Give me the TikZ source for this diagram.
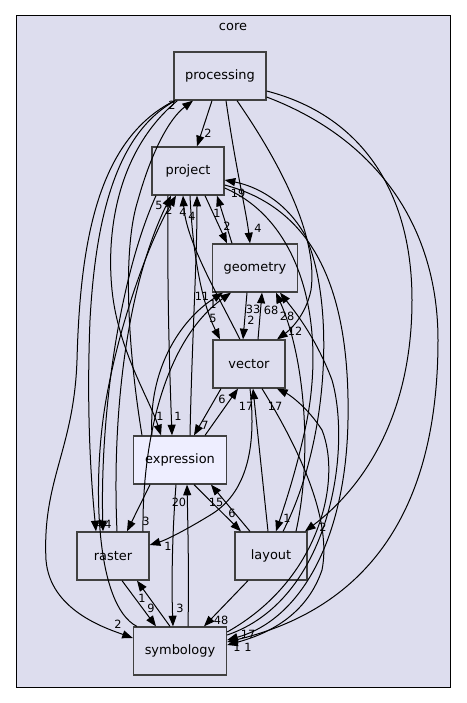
\documentclass[tikz,border=0pt]{standalone}
\usepackage{fontspec}
\setmainfont{DejaVu Sans}
\usepackage{xcolor}
\usetikzlibrary{arrows, arrows.meta}
\definecolor{clusterbg}{HTML}{DDDDEE}
\definecolor{dirfill}{HTML}{DDDDEE}
\definecolor{curfill}{HTML}{EEEEFF}
\definecolor{dirline}{HTML}{404040}

\begin{document}
\begin{tikzpicture}[x=0.75pt,y=-0.75pt,
  dirbox/.style={draw=dirline,line width=0.95pt,fill=dirfill,minimum height=36pt,inner sep=0pt,
    font=\fontsize{9.7}{11}\selectfont},
  dep/.style={draw=black,line width=0.75pt,-{Triangle[length=8pt,width=6pt]}},
  lbl/.style={inner sep=0pt,font=\fontsize{8.5}{10}\selectfont}]
\useasboundingbox[fill=white] (0,0) rectangle (467,703);
%cluster
\draw[fill=clusterbg,line width=0.75pt] (16,15) rectangle (450,687);
\node[lbl,font=\fontsize{9.7}{11}\selectfont] (core) at (233,27) {core};

%directories
\node[dirbox,minimum width=69pt] (processing) at (220,76) {processing};
\node[dirbox,minimum width=54pt] (project) at (188,171) {project};
\node[dirbox,minimum width=63.75pt] (geometry) at (255,268) {geometry};
\node[dirbox,minimum width=54pt] (vector) at (249,364) {vector};
\node[dirbox,minimum width=69.75pt,fill=curfill] (expression) at (180,460) {expression};
\node[dirbox,minimum width=54pt] (raster) at (113,556) {raster};
\node[dirbox,minimum width=54pt] (layout) at (271,556) {layout};
\node[dirbox,minimum width=69.75pt] (symbology) at (180,651) {symbology};

%processing
\draw[dep] ([xshift=-6pt]processing.south) -- ([xshift=6.75pt]project.north);
\draw[dep] ([xshift=4.5pt]processing.south) .. controls (236,170) and (246,210) .. ([xshift=-3.75pt]geometry.north);
\draw[dep] ([xshift=12.75pt]processing.south) .. controls (285,170) and (318,240) .. (311,290) .. controls (306,315) and (290,330) .. ([xshift=21pt]vector.north);
\draw[dep] ([yshift=-11.25pt]processing.east) .. controls (360,115) and (412,190) .. (412,300) .. controls (412,420) and (360,490) .. ([xshift=25.5pt]layout.north);
\draw[dep] ([yshift=-15.75pt]processing.east) .. controls (380,140) and (438,230) .. (438,340) .. controls (438,520) and (360,610) .. ([yshift=6.75pt]symbology.east);
\draw[dep] ([xshift=1pt]processing.south west) .. controls (95,140) and (80,250) .. (77,360) .. controls (74,450) and (42,480) .. (46,560) .. controls (50,610) and (105,628) .. ([yshift=9.75pt]symbology.west);
\draw[dep] ([xshift=3pt]processing.south west) .. controls (118,150) and (106,230) .. (112,290) .. controls (118,350) and (150,400) .. ([xshift=-14.25pt]expression.north);
\draw[dep] ([xshift=1.5pt]processing.south west) .. controls (112,135) and (95,230) .. (90,320) .. controls (86,420) and (92,490) .. ([xshift=-12.75pt]raster.north);
\node[lbl] (l1) at (208,133) {2};
\node[lbl] (l2) at (258,228) {4};
\node[lbl] (l3) at (295,331) {12};
\node[lbl] (l4) at (323,527) {2};
\node[lbl] (l5) at (248,647) {1};
\node[lbl] (l6) at (118,624) {2};
\node[lbl] (l7) at (160,416) {1};
\node[lbl] (l8) at (100,524) {4};

%project
\draw[dep] ([xshift=-28.5pt]expression.north) .. controls (128,350) and (122,250) .. (138,200) .. controls (152,150) and (170,118) .. ([xshift=-20.25pt]processing.south);
\draw[dep] ([xshift=3pt]raster.north) .. controls (112,420) and (125,290) .. ([xshift=-12.75pt]project.south);
\draw[dep] ([xshift=3pt]symbology.north west) .. controls (95,605) and (92,480) .. (106,400) .. controls (120,320) and (150,240) .. ([xshift=-9pt]project.south);
\draw[dep] ([xshift=-6.75pt]vector.north) .. controls (215,290) and (186,240) .. ([xshift=-3.75pt]project.south);
\draw[dep] ([xshift=7.5pt]expression.north) .. controls (192,340) and (197,260) .. ([xshift=6.75pt]project.south);
\draw[dep] ([xshift=-17.25pt]geometry.north) -- ([xshift=21.75pt]project.south);
\draw[dep] ([xshift=12.75pt]project.south) -- ([xshift=-21pt]geometry.north);
\draw[dep] ([xshift=9pt]layout.north) .. controls (330,440) and (335,300) .. (305,235) .. controls (285,200) and (255,186) .. ([yshift=-6.75pt]project.east);
\draw[dep] ([xshift=1.5pt]project.south) .. controls (193,260) and (203,305) .. ([xshift=-21.75pt]vector.north);
\draw[dep] ([xshift=-15pt]project.south) .. controls (167,300) and (170,380) .. ([xshift=-6pt]expression.north);
\draw[dep] ([xshift=-24pt]project.south) .. controls (118,280) and (100,420) .. ([xshift=-7.5pt]raster.north);
\draw[dep] ([yshift=-12.75pt]project.east) .. controls (300,220) and (326,320) .. (307,420) .. controls (297,470) and (283,510) .. ([xshift=3.75pt]layout.north);
\draw[dep] ([yshift=-10.5pt]project.east) .. controls (320,210) and (350,300) .. (348,420) .. controls (346,540) and (300,620) .. ([yshift=8.25pt]symbology.east);
\node[lbl] (l9) at (172,105) {2};
\node[lbl] (l10) at (159,205) {5};
\node[lbl] (l11) at (169,210) {2};
\node[lbl] (l12) at (183,212) {4};
\node[lbl] (l13) at (192,216) {4};
\node[lbl] (l14) at (217,213) {1};
\node[lbl] (l15) at (227,226) {2};
\node[lbl] (l16) at (238,193) {19};
\node[lbl] (l17) at (213,318) {5};
\node[lbl] (l18) at (178,416) {1};
\node[lbl] (l19) at (108,524) {4};
\node[lbl] (l20) at (287,518) {1};
\node[lbl] (l21) at (237,647) {1};

%geometry and vector
\draw[dep] ([xshift=-6pt]geometry.south) -- ([xshift=-4.5pt]vector.north);
\draw[dep] ([xshift=6.75pt]vector.north) -- ([xshift=5.25pt]geometry.south);
\draw[dep] ([xshift=18.75pt]layout.north) .. controls (312,460) and (306,360) .. ([xshift=15.75pt]geometry.south);
\draw[dep] ([yshift=12pt]symbology.east) .. controls (330,600) and (352,450) .. (332,380) .. controls (315,335) and (292,308) .. ([xshift=18.75pt]geometry.south);
\draw[dep] ([xshift=-21pt]expression.north) .. controls (148,370) and (180,320) .. ([xshift=-24pt]geometry.south);
\draw[dep] ([xshift=22.5pt]raster.north) .. controls (142,440) and (165,340) .. ([xshift=-18pt]geometry.south);
\draw[dep] ([xshift=-21pt]vector.south) -- ([xshift=10.5pt]expression.north);
\draw[dep] ([xshift=18.75pt]expression.north) -- ([xshift=-8.25pt]vector.south);
\draw[dep] ([xshift=-2.25pt]layout.north) -- ([xshift=3pt]vector.south);
\draw[dep] ([yshift=14.25pt]symbology.east) .. controls (320,580) and (342,480) .. (322,430) .. controls (308,408) and (290,395) .. ([xshift=21pt]vector.south);
\draw[dep] ([xshift=9.75pt]vector.south) .. controls (300,450) and (332,520) .. (322,570) .. controls (305,620) and (260,636) .. ([yshift=4.5pt]symbology.east);
\draw[dep] ([xshift=0.75pt]vector.south) .. controls (256,440) and (250,490) .. (212,514) .. controls (186,530) and (166,540) .. ([yshift=8.25pt]raster.east);
\node[lbl] (l22) at (251,320) {2};
\node[lbl] (l23) at (253,309) {33};
\node[lbl] (l24) at (271,310) {68};
\node[lbl] (l25) at (287,316) {28};
\node[lbl] (l26) at (202,296) {11};
\node[lbl] (l27) at (213,304) {1};
\node[lbl] (l28) at (205,425) {7};
\node[lbl] (l29) at (222,399) {6};
\node[lbl] (l30) at (246,406) {17};
\node[lbl] (l31) at (275,406) {17};
\node[lbl] (l32) at (248,634) {17};
\node[lbl] (l33) at (168,546) {1};

%expression, raster, layout, symbology
\draw[dep] ([xshift=-22.5pt]expression.south) -- ([xshift=10.5pt]raster.north);
\draw[dep] ([xshift=10.5pt]expression.south) -- ([xshift=-22.5pt]layout.north);
\draw[dep] ([xshift=-15.75pt]layout.north) -- ([xshift=23.25pt]expression.south);
\draw[dep] ([xshift=-3pt]expression.south) .. controls (171,550) and (172,600) .. ([xshift=-5.25pt]symbology.north);
\draw[dep] ([xshift=6pt]symbology.north) .. controls (189,580) and (188,530) .. ([xshift=5.25pt]expression.south);
\draw[dep] ([xshift=6.75pt]raster.south) -- ([xshift=-18pt]symbology.north);
\draw[dep] ([xshift=-7.5pt]symbology.north) -- ([xshift=18pt]raster.south);
\draw[dep] ([xshift=-17.25pt]layout.south) -- ([xshift=18pt]symbology.north);
\node[lbl] (l34) at (146,521) {3};
\node[lbl] (l35) at (232,513) {6};
\node[lbl] (l36) at (216,502) {15};
\node[lbl] (l37) at (180,608) {3};
\node[lbl] (l38) at (179,502) {20};
\node[lbl] (l39) at (151,608) {9};
\node[lbl] (l40) at (142,598) {1};
\node[lbl] (l41) at (221,620) {48};
\end{tikzpicture}
\end{document}
